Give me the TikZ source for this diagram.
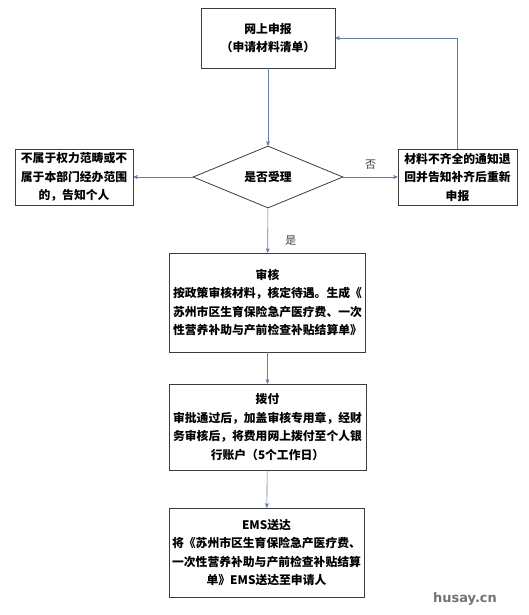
\documentclass[tikz,border=0pt]{standalone}
\usepackage{fontspec}
\newfontfamily\cjk{Noto Sans CJK SC}
\newfontfamily\marke{DejaVu Sans}
\usetikzlibrary{arrows,positioning}
\usetikzlibrary{shapes.geometric}
\definecolor{pilblau}{RGB}{96,128,168}
\definecolor{rand}{RGB}{60,60,60}
\tikzset{
	%Define standard arrow tip
	>=stealth',
	%Define style for boxes
	boks/.style={
		rectangle,
		draw=rand, thick,
		align=center,
		inner sep=2pt,
		font=\cjk\bfseries\fontsize{11.8}{18.5}\selectfont},
	% Define style for the decision
	rute/.style={
		diamond,
		draw=rand, thick,
		aspect=2.4,
		inner sep=1pt,
		minimum width=150pt,
		minimum height=62pt,
		font=\cjk\bfseries\fontsize{11.8}{14}\selectfont},
	% Define arrow style
	pil/.style={
		->,
		draw=pilblau,
		semithick},
	% small labels on arrows
	merke/.style={font=\cjk\fontsize{11}{13}\selectfont, text=black!75}
}
\begin{document}
\begin{tikzpicture}[x=1pt, y=-1pt]
	\useasboundingbox (0,0) rectangle (528,615);
	
	\node[boks, minimum width=134pt, minimum height=60pt] (shenbao) at (268,38) {网上申报\\（申请材料清单）};
	\node[rute] (shouli) at (268,177) {是否受理};
	\node[boks, minimum width=118pt, minimum height=56pt] (buhe) at (74,177) {不属于权力范畴或不\\属于本部门经办范围\\的，告知个人};
	\node[boks, minimum width=119pt, minimum height=56pt] (tuihui) at (457.5,177) {材料不齐全的通知退\\回并告知补齐后重新\\申报};
	\node[boks, minimum width=196pt, minimum height=99pt] (shenhe) at (267.5,302.5) {审核\\按政策审核材料，核定待遇。生成《\\苏州市区生育保险急产医疗费、一次\\性营养补助与产前检查补贴结算单》};
	\node[boks, minimum width=197pt, minimum height=86pt] (bofu) at (267.5,427) {拨付\\审批通过后，加盖审核专用章，经财\\务审核后，将费用网上拨付至个人银\\行账户（5个工作日）};
	\node[boks, minimum width=195pt, minimum height=89pt] (songda) at (266.5,552.5) {EMS送达\\将《苏州市区生育保险急产医疗费、\\一次性营养补助与产前检查补贴结算\\单》EMS送达至申请人};
	
	\path[every node/.style={merke}]
	(shenbao) edge [pil] (shouli)
	(shouli) edge [pil] (buhe)
	(shouli) edge [pil] node[above=4pt] {否} (tuihui)
	(shouli) edge [pil] node[right=14pt, pos=0.72] {是} (shenhe)
	(shenhe) edge [pil] (bofu)
	(bofu) edge [pil] (songda);
	
	% back to the start
	\draw[pil] (tuihui.north) |- (shenbao.east);
	
	\node[font=\marke\bfseries\fontsize{13}{15}\selectfont, text=black!55] (zeichen) at (465,599) {husay.cn};
	
\end{tikzpicture}
\end{document}
